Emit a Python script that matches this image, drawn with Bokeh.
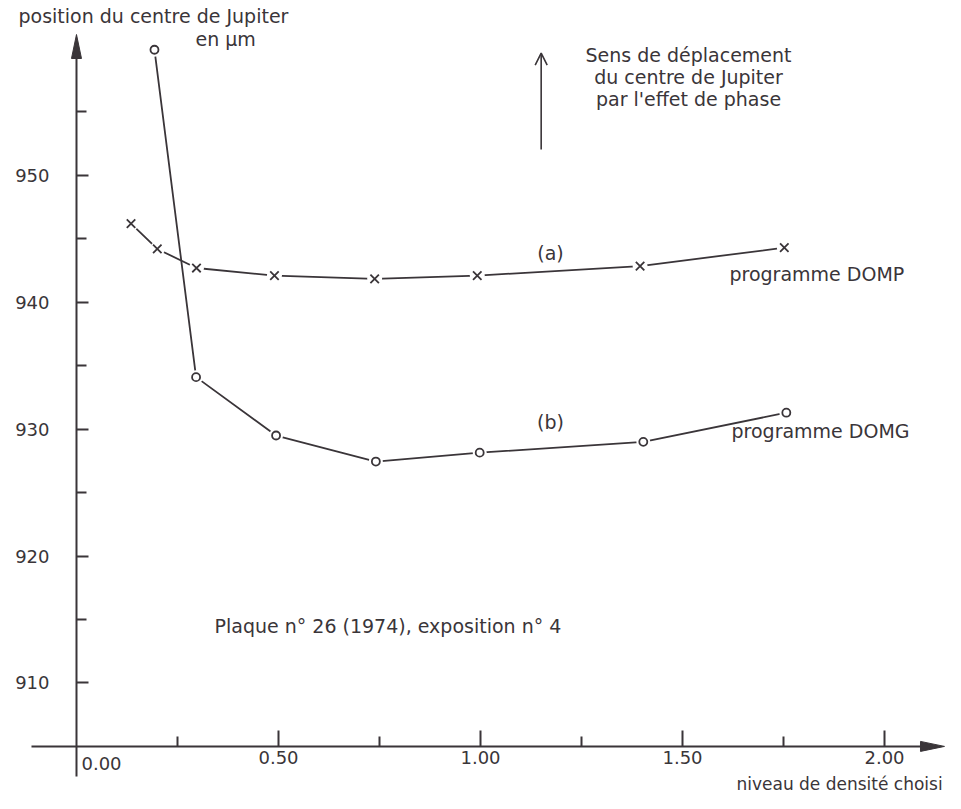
from bokeh.plotting import figure
from bokeh.models import (Range1d, FixedTicker, NumeralTickFormatter, LinearAxis,
                          CustomJSTickFormatter, Arrow, OpenHead)
from bokeh.core.properties import value
from bokeh.embed import file_html
from bokeh.resources import INLINE

# ---------------- data ----------------
density_a = [0.135, 0.200, 0.297, 0.490, 0.738, 0.992, 1.395, 1.752]
position_a = [946.2, 944.2, 942.7, 942.1, 941.85, 942.1, 942.85, 944.3]   # programme DOMP (a)

density_b = [0.193, 0.296, 0.494, 0.741, 0.998, 1.403, 1.757]
position_b = [959.9, 934.1, 929.5, 927.45, 928.15, 929.0, 931.3]         # programme DOMG (b)

x_ticks_major = [0.5, 1.0, 1.5, 2.0]
x_ticks_minor = [0.25, 0.75, 1.25, 1.75]
y_ticks_major = [910, 920, 930, 940, 950]
y_ticks_minor = [915, 925, 935, 945, 955]

# ---------------- layout / style ----------------
W, H = 945, 793
X0, X1 = -0.1881, 2.1510
Y0, Y1 = 901.290, 963.780
X_ORIGIN, Y_ORIGIN = 0.0, 905.0
INK = "#3a3539"
FONT = "DejaVu Sans"

px_x = W / (X1 - X0)
px_y = H / (Y1 - Y0)

p = figure(width=W, height=H, output_backend="svg", toolbar_location=None,
           x_range=Range1d(X0, X1), y_range=Range1d(Y0, Y1), min_border=0)
p.outline_line_color = None
p.grid.visible = False
p.background_fill_color = "white"
p.border_fill_color = "white"

# axes fixed at the origin
p.xaxis.fixed_location = Y_ORIGIN
p.yaxis.fixed_location = X_ORIGIN
for ax in (p.xaxis[0], p.yaxis[0]):
    ax.axis_line_color = None
    ax.major_tick_line_color = INK
    ax.minor_tick_line_color = INK
    ax.major_tick_line_width = 2
    ax.minor_tick_line_width = 2
    ax.major_tick_out = 0
    ax.minor_tick_out = 0
    ax.major_label_text_font = FONT
    ax.major_label_text_font_size = "18px"
    ax.major_label_text_color = INK

xa = p.xaxis[0]
xa.ticker = FixedTicker(ticks=x_ticks_major, minor_ticks=x_ticks_minor)
xa.formatter = NumeralTickFormatter(format="0.00")
xa.major_tick_in = 16
xa.minor_tick_in = 10
xa.major_label_standoff = 5

ya = p.yaxis[0]
ya.ticker = FixedTicker(ticks=y_ticks_major, minor_ticks=y_ticks_minor)
ya.major_tick_in = 12
ya.minor_tick_in = 10
ya.major_label_standoff = 27

# "0.00" label, placed just right of the vertical axis
ZERO_LABEL_POS = 25 / px_x
zero_axis = LinearAxis(fixed_location=Y_ORIGIN,
                       ticker=FixedTicker(ticks=[ZERO_LABEL_POS], minor_ticks=[]),
                       formatter=CustomJSTickFormatter(code="return '0.00'"),
                       axis_line_color=None, major_tick_line_color=None,
                       minor_tick_line_color=None, major_label_standoff=5,
                       major_label_text_font=FONT, major_label_text_font_size="18px",
                       major_label_text_color=INK)
p.add_layout(zero_axis, "below")

# hand drawn axis lines with arrow heads
Y_AXIS_BOTTOM, Y_AXIS_TIP = 902.63, 961.1
X_AXIS_LEFT, X_AXIS_TIP = -0.1114, 2.1485
HEAD_LEN, HEAD_HALF = 24, 5
p.segment(x0=[X_ORIGIN, X_AXIS_LEFT], y0=[Y_AXIS_BOTTOM, Y_ORIGIN],
          x1=[X_ORIGIN, X_AXIS_TIP - HEAD_LEN / px_x], y1=[Y_AXIS_TIP - HEAD_LEN / px_y, Y_ORIGIN],
          line_color=INK, line_width=2)
p.patch(x=[X_ORIGIN - HEAD_HALF / px_x, X_ORIGIN, X_ORIGIN + HEAD_HALF / px_x],
        y=[Y_AXIS_TIP - HEAD_LEN / px_y, Y_AXIS_TIP, Y_AXIS_TIP - HEAD_LEN / px_y],
        fill_color=INK, line_color=INK, line_width=1)
p.patch(x=[X_AXIS_TIP - HEAD_LEN / px_x, X_AXIS_TIP, X_AXIS_TIP - HEAD_LEN / px_x],
        y=[Y_ORIGIN + HEAD_HALF / px_y, Y_ORIGIN, Y_ORIGIN - HEAD_HALF / px_y],
        fill_color=INK, line_color=INK, line_width=1)

# ---------------- series ----------------
p.line(density_b, position_b, line_color=INK, line_width=1.8)
p.line(density_a, position_a, line_color=INK, line_width=1.8)
# white halos leave small gaps between lines and markers, as in the drawing
p.scatter(density_a, position_a, marker="circle", size=15, fill_color="white", line_color=None)
p.scatter(density_b, position_b, marker="circle", size=14, fill_color="white", line_color=None)
p.scatter(density_a, position_a, marker="x", size=12, line_color=INK, line_width=1.8)
p.scatter(density_b, position_b, marker="circle", size=8, fill_color="white",
          line_color=INK, line_width=1.8)

# ---------------- annotations ----------------
p.text(x=[-0.1436, 0.2946, 1.6163, 1.6213, 0.3416],
       y=[962.56, 960.71, 942.23, 929.89, 914.49],
       text=["position du centre de Jupiter", "en μm", "programme DOMP",
             "programme DOMG", "Plaque n° 26 (1974), exposition n° 4"],
       text_font=value(FONT), text_font_size="19px", text_color=INK,
       text_align="left", text_baseline="middle")
p.text(x=[1.5149, 1.5149, 1.5149, 1.1733, 1.1733],
       y=[959.49, 957.75, 956.02, 943.92, 930.53],
       text=["Sens de déplacement", "du centre de Jupiter", "par l'effet de phase",
             "(a)", "(b)"],
       text_font=value(FONT), text_font_size="19px", text_color=INK,
       text_align="center", text_baseline="middle")
p.text(x=[2.144], y=[902.078], text=["niveau de densité choisi"],
       text_font=value(FONT), text_font_size="17px", text_color=INK,
       text_align="right", text_baseline="alphabetic")

p.add_layout(Arrow(end=OpenHead(size=12, line_color=INK, line_width=1.6),
                   x_start=1.1502, y_start=952.04, x_end=1.1502, y_end=959.63,
                   line_color=INK, line_width=1.6))

open("out.html", "w").write(file_html(p, INLINE))
